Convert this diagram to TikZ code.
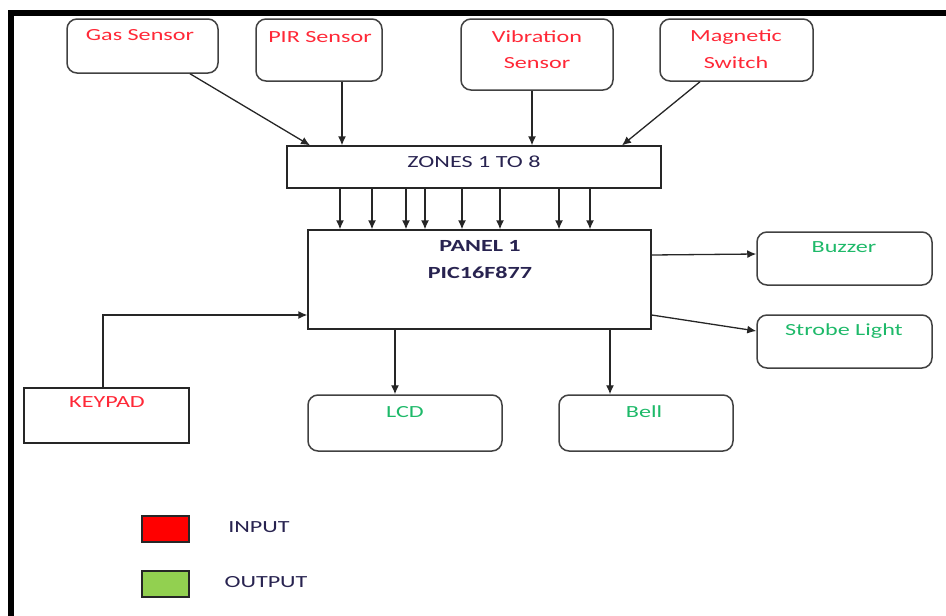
\documentclass[tikz,border=0pt]{standalone}
\usepackage{fontspec}
\setmainfont{Carlito}[FakeStretch=1.42]
\usetikzlibrary{arrows.meta}
\definecolor{inred}{RGB}{255,40,55}
\definecolor{outgreen}{RGB}{30,185,105}
\definecolor{darktxt}{RGB}{40,35,80}
\definecolor{boxgray}{RGB}{65,65,65}
\definecolor{leggreen}{RGB}{146,208,80}
\tikzset{
  rbox/.style={draw=boxgray, line width=1.5pt, rounded corners=10pt, inner sep=0pt},
  sbox/.style={draw=black!85, line width=1.3pt, inner sep=0pt},
  intxt/.style={text=inred, font=\fontsize{17}{20}\selectfont, align=center, inner sep=0pt},
  outtxt/.style={text=outgreen, font=\fontsize{17}{20}\selectfont, align=center, inner sep=0pt},
  dtxt/.style={text=darktxt, font=\fontsize{17}{20}\selectfont, inner sep=0pt},
  arr/.style={draw=black!85, line width=1.3pt, -{Latex[length=9pt,width=8pt]}},
  legbox/.style={draw=black!85, line width=1.4pt, minimum width=47pt, minimum height=26pt, inner sep=0pt}
}
\begin{document}
\begin{tikzpicture}[x=1pt,y=-1pt]
\useasboundingbox (0,0) rectangle (946,616);
% frame
\draw[line width=6pt, line join=miter] (11,616) -- (11,13) -- (946,13);
% input sensors
\node[rbox, minimum width=151pt, minimum height=54pt] (gas) at (142.5,46) {};
\node[intxt] (gast) at (140,35) {Gas Sensor};
\node[rbox, minimum width=126pt, minimum height=62pt] (pir) at (319,50) {};
\node[intxt] (pirt) at (320,37) {PIR Sensor};
\node[rbox, minimum width=152pt, minimum height=71pt] (vib) at (537,54.5) {};
\node[intxt] (vibt) at (537,37) {Vibration};
\node[intxt] (vibt2) at (537,63) {Sensor};
\node[rbox, minimum width=153pt, minimum height=62pt] (mag) at (736.5,50) {};
\node[intxt] (magt) at (736,37) {Magnetic};
\node[intxt] (magt2) at (736,63) {Switch};
% zones
\node[sbox, minimum width=374pt, minimum height=42pt] (zones) at (474,167) {};
\node[dtxt] (zonest) at (474,162) {ZONES 1 TO 8};
% panel
\node[sbox, minimum width=343pt, minimum height=99pt] (panel) at (479.5,279.5) {};
\node[dtxt, font=\fontsize{17}{20}\selectfont\bfseries] (panelt) at (480,246) {PANEL 1};
\node[dtxt, font=\fontsize{17}{20}\selectfont\bfseries] (panelt2) at (480,273) {PIC16F877};
% outputs
\node[rbox, minimum width=175pt, minimum height=53pt] (buzzer) at (844.5,258.5) {};
\node[outtxt] (buzzert) at (844,247) {Buzzer};
\node[rbox, minimum width=175pt, minimum height=53pt] (strobe) at (844.5,341.5) {};
\node[outtxt] (strobet) at (844,331) {Strobe Light};
\node[rbox, minimum width=194pt, minimum height=56pt] (lcd) at (405,423) {};
\node[outtxt] (lcdt) at (405,412) {LCD};
\node[rbox, minimum width=174pt, minimum height=56pt] (bell) at (646,423) {};
\node[outtxt] (bellt) at (644,412) {Bell};
% keypad
\node[sbox, minimum width=165pt, minimum height=55pt] (keypad) at (106.5,415.5) {};
\node[intxt] (keypadt) at (107,402) {KEYPAD};
% legend
\node[legbox, fill=red] (legin) at (165.5,529) {};
\node[dtxt] (legint) at (259,527) {INPUT};
\node[legbox, fill=leggreen] (legout) at (165.5,584) {};
\node[dtxt] (legoutt) at (266,582) {OUTPUT};
% sensor arrows
\draw[arr] (gas.south -| 190,0) -- (zones.north -| 310,0);
\draw[arr] (pir.south -| 342,0) -- (zones.north -| 342,0);
\draw[arr] (vib.south -| 532,0) -- (zones.north -| 532,0);
\draw[arr] (mag.south -| 700,0) -- (zones.north -| 622,0);
% zone arrows
\foreach \xx in {340,372,406,425,462,500,559,590}
  \draw[arr] (zones.south -| \xx,0) -- (panel.north -| \xx,0);
% keypad
\draw[arr] (keypad.north -| 103,0) |- (panel.west |- 0,315);
% outputs
\draw[arr] (panel.east |- 0,255) -- (buzzer.west |- 0,254);
\draw[arr] (panel.east |- 0,315) -- (strobe.west |- 0,331);
\draw[arr] (panel.south -| 395,0) -- (lcd.north -| 395,0);
\draw[arr] (panel.south -| 610,0) -- (bell.north -| 610,0);
\end{tikzpicture}
\end{document}
